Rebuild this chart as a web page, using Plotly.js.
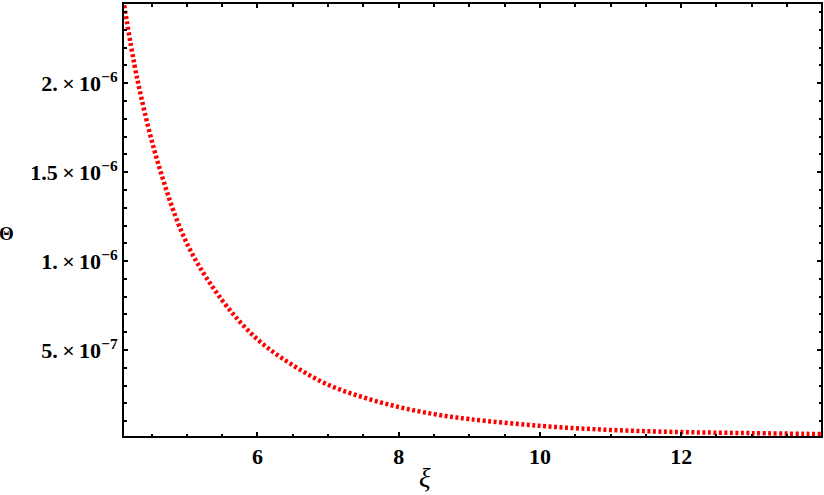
<!DOCTYPE html>
<html>
<head>
<meta charset="utf-8">
<script src="https://cdn.plot.ly/plotly-3.0.1.min.js"></script>
<style>
  html, body { margin: 0; padding: 0; background: #fff; }
  #chart { width: 824px; height: 495px; }
</style>
</head>
<body>
<div id="chart"></div>
<script>
// values
const xi = [4.1, 4.3, 4.6, 5.0, 5.5, 6.0, 6.5, 7.0, 7.5, 8.0, 8.5, 9.0, 10.0, 11.0, 12.0, 13.0, 14.0];
const theta = [2.47e-6, 2.02e-6, 1.54e-6, 1.10e-6, 0.78e-6, 0.56e-6, 0.415e-6, 0.305e-6, 0.234e-6,
               0.180e-6, 0.140e-6, 0.112e-6, 0.074e-6, 0.051e-6, 0.039e-6, 0.033e-6, 0.028e-6];

const yTickVals = [5e-7, 1e-6, 1.5e-6, 2e-6];
const yTickText = ['5.\u2009\u00d7\u200910<sup>\u22127</sup>', '1.\u2009\u00d7\u200910<sup>\u22126</sup>',
                   '1.5\u2009\u00d7\u200910<sup>\u22126</sup>', '2.\u2009\u00d7\u200910<sup>\u22126</sup>'];
const xTickVals = [6, 8, 10, 12];

const tickFont = { family: 'Liberation Serif', size: 22, color: '#000' };

const axisBase = {
    showgrid: false,
    zeroline: false,
    showline: true,
    linecolor: '#000',
    linewidth: 2,
    mirror: 'ticks',
    ticks: 'inside',
    ticklen: 4,
    tickwidth: 2,
    tickcolor: '#000',
    tickfont: tickFont,
};

const layout = {
    width: 824,
    height: 495,
    paper_bgcolor: '#fff',
    plot_bgcolor: '#fff',
    showlegend: false,
    margin: { t: 4, b: 59, l: 124, r: 3 },
    xaxis: Object.assign({}, axisBase, {
        range: [4.11, 13.98],
        tickmode: 'array',
        tickvals: xTickVals,
        ticktext: xTickVals.map(v => '<b>' + v + '</b>'),
        minor: { dtick: 0.5, tick0: 0, ticks: 'inside', ticklen: 2.5, tickwidth: 2, tickcolor: '#000' },
    }),
    yaxis: Object.assign({}, axisBase, {
        range: [1.7e-8, 2.445e-6],
        tickmode: 'array',
        tickvals: yTickVals,
        ticktext: yTickText.map(t => '<b>' + t + '</b>'),
        minor: { dtick: 1e-7, tick0: 0, ticks: 'inside', ticklen: 2.5, tickwidth: 2, tickcolor: '#000' },
    }),
    annotations: [
        { text: '<i>\u03be</i>', xref: 'paper', yref: 'paper', x: (425 - 124) / 697, y: -0.097,
          showarrow: false, font: { family: 'Liberation Serif', size: 27, color: '#000' }, xanchor: 'center', yanchor: 'middle' },
        { text: '<b>\u0398</b>', xref: 'paper', yref: 'paper', x: -0.168, y: (436 - 233) / 432,
          showarrow: false, font: { family: 'Liberation Serif', size: 19, color: '#000' }, xanchor: 'center', yanchor: 'middle' },
    ],
};

Plotly.newPlot('chart', [{
    x: xi,
    y: theta,
    mode: 'lines',
    line: { color: '#ff0000', width: 4.5, dash: '3px,2.5px', shape: 'spline', smoothing: 1 },
    cliponaxis: true,
}], layout, { displayModeBar: false, staticPlot: true });
</script>
</body>
</html>
